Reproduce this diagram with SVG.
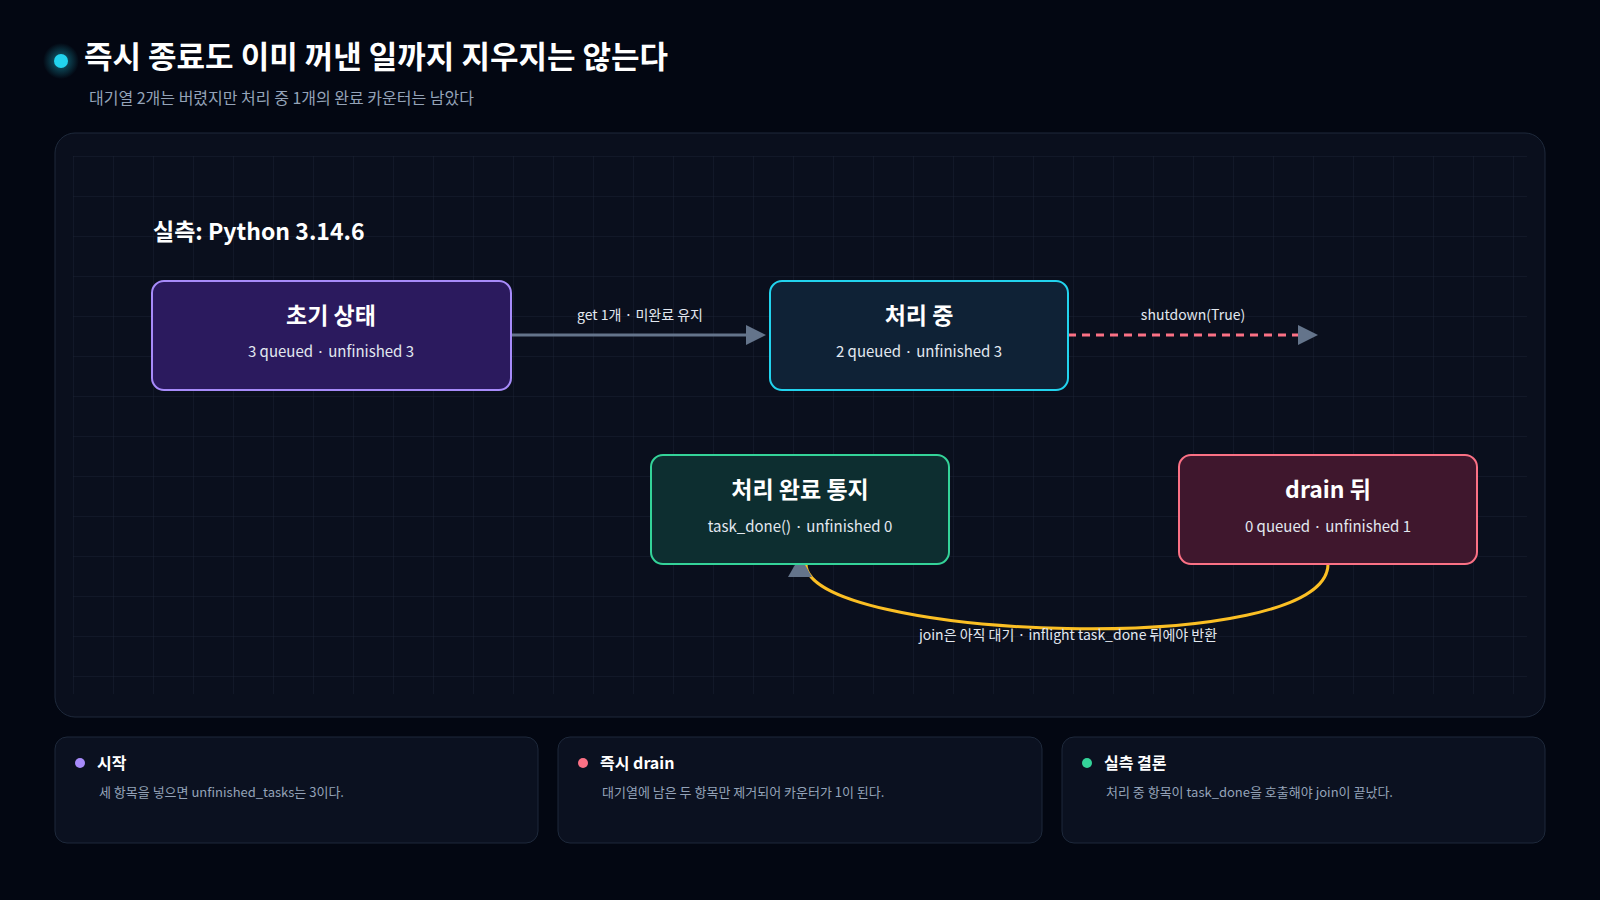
<svg xmlns="http://www.w3.org/2000/svg" width="1600" height="900" viewBox="0 0 1600 900">
<defs>
<pattern id="grid" x="73" y="156" width="40" height="40" patternUnits="userSpaceOnUse"><path d="M0 0V40M0 0H40" fill="none" stroke="#1a2233" stroke-width="1"/></pattern>
<marker id="ah" viewBox="0 0 20 20" refX="2" refY="10" markerWidth="20" markerHeight="20" markerUnits="userSpaceOnUse" orient="auto"><path d="M0 0L20 10L0 20z" fill="#64748b"/></marker>
<marker id="ah2" viewBox="0 0 20 20" refX="2" refY="10" markerWidth="20" markerHeight="20" markerUnits="userSpaceOnUse" orient="auto"><path d="M0 0L20 10L0 20z" fill="#64748b"/></marker>
<radialGradient id="glow"><stop offset="0" stop-color="#22d3ee" stop-opacity="0.5"/><stop offset="1" stop-color="#22d3ee" stop-opacity="0"/></radialGradient>
</defs>
<style>
text{font-family:"Noto Sans CJK KR","Noto Sans",sans-serif}
.nt{font-size:23px;font-weight:700;fill:#fff;text-anchor:middle}
.ns{font-size:15px;fill:#e2e8f0;text-anchor:middle}
.el{font-size:14px;fill:#e2e8f0;text-anchor:middle}
.card{fill:#0b1120;stroke:#1e293b;stroke-width:1}
.ct{font-size:16px;font-weight:700;fill:#fff}
.cd{font-size:13px;fill:#94a3b8}
</style>
<rect width="1600" height="900" fill="#030712"/>
<circle cx="61" cy="61" r="18" fill="url(#glow)"/>
<circle cx="61" cy="61" r="7" fill="#22d3ee"/>
<text x="84" y="68" font-size="31" font-weight="700" fill="#fff">즉시 종료도 이미 꺼낸 일까지 지우지는 않는다</text>
<text x="89" y="104" font-size="16" fill="#94a3b8">대기열 2개는 버렸지만 처리 중 1개의 완료 카운터는 남았다</text>
<rect x="55" y="133" width="1490" height="584" rx="20" fill="#0a0f1d" stroke="#1e293b"/>
<rect x="73" y="156" width="1454" height="538" fill="url(#grid)"/>
<text x="153" y="240" font-size="23" font-weight="700" fill="#fff">실측: Python 3.14.6</text>
<g id="connectors">
<line x1="511" y1="335" x2="748" y2="335" stroke="#64748b" stroke-width="3" marker-end="url(#ah)"/>
<text class="el" x="640" y="320">get 1개 · 미완료 유지</text>
<line x1="1068" y1="335" x2="1300" y2="335" stroke="#fb7185" stroke-width="3" stroke-dasharray="8 6" marker-end="url(#ah2)"/>
<text class="el" x="1193" y="320">shutdown(True)</text>
<path d="M1328 564C1328 660 806 640 806 564" fill="none" stroke="#fbbf24" stroke-width="3"/>
<path d="M788 577L812 577L800 556z" fill="#64748b"/>
<text class="el" x="1068" y="640">join은 아직 대기 · inflight task_done 뒤에야 반환</text>
</g>
<g id="n1"><rect x="152" y="281" width="359" height="109" rx="12" fill="#2b1a5e" stroke="#a78bfa" stroke-width="2"/><text class="nt" x="331" y="324">초기 상태</text><text class="ns" x="331" y="357">3 queued · unfinished 3</text></g>
<g id="n2"><rect x="770" y="281" width="298" height="109" rx="12" fill="#0f2236" stroke="#22d3ee" stroke-width="2"/><text class="nt" x="919" y="324">처리 중</text><text class="ns" x="919" y="357">2 queued · unfinished 3</text></g>
<g id="n3"><rect x="651" y="455" width="298" height="109" rx="12" fill="#0d2e30" stroke="#34d399" stroke-width="2"/><text class="nt" x="800" y="498">처리 완료 통지</text><text class="ns" x="800" y="532">task_done() · unfinished 0</text></g>
<g id="n4"><rect x="1179" y="455" width="298" height="109" rx="12" fill="#3f172d" stroke="#fb7185" stroke-width="2"/><text class="nt" x="1328" y="498">drain 뒤</text><text class="ns" x="1328" y="532">0 queued · unfinished 1</text></g>
<g id="c1"><rect class="card" x="55" y="737" width="483" height="106" rx="12"/><circle cx="80" cy="763" r="5" fill="#a78bfa"/><text class="ct" x="97" y="769">시작</text><text class="cd" x="99" y="797">세 항목을 넣으면 unfinished_tasks는 3이다.</text></g>
<g id="c2"><rect class="card" x="558" y="737" width="484" height="106" rx="12"/><circle cx="583" cy="763" r="5" fill="#fb7185"/><text class="ct" x="600" y="769">즉시 drain</text><text class="cd" x="602" y="797">대기열에 남은 두 항목만 제거되어 카운터가 1이 된다.</text></g>
<g id="c3"><rect class="card" x="1062" y="737" width="483" height="106" rx="12"/><circle cx="1087" cy="763" r="5" fill="#34d399"/><text class="ct" x="1104" y="769">실측 결론</text><text class="cd" x="1106" y="797">처리 중 항목이 task_done을 호출해야 join이 끝났다.</text></g>
</svg>
